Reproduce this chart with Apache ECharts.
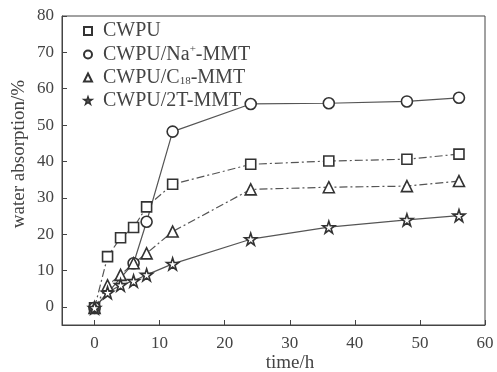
<!DOCTYPE html>
<html><head><meta charset="utf-8">
<script src="https://cdn.jsdelivr.net/npm/echarts@6/dist/echarts.min.js"></script>
<style>html,body{margin:0;padding:0;background:#fff}#c{width:497px;height:372px}</style>
</head><body><div id="c"></div>
<script>
const timeH = [0, 2, 4, 6, 8, 12, 24, 36, 48, 56];
const cwpu   = [-0.3, 13.8, 19.0, 21.8, 27.5, 33.7, 39.2, 40.1, 40.6, 42.0];
const naMMT  = [-0.3, null, null, 12.0, 23.4, 48.2, 55.8, 56.0, 56.5, 57.5];
const c18MMT = [-0.3, 5.9, 8.8, 12.0, 14.7, 20.7, 32.3, 32.9, 33.2, 34.6];
const t2MMT  = [-0.3, 3.9, 6.0, 7.1, 8.8, 11.8, 18.6, 21.9, 23.9, 25.1];
const seriesNames = ['CWPU', 'CWPU/Na+-MMT', 'CWPU/C18-MMT', 'CWPU/2T-MMT'];
const xTicks = [0, 10, 20, 30, 40, 50, 60];
const yTicks = [0, 10, 20, 30, 40, 50, 60, 70, 80];
const xName = 'time/h';
const yName = 'water absorption/%';

const STAR = 'path://M50,0 L61.8,35.1 L98.9,35.1 L68.9,56.8 L80.3,91.9 L50,70.2 L19.7,91.9 L31.1,56.8 L1.1,35.1 L38.2,35.1 Z';
const icons = ['rect', 'circle', 'triangle', STAR];
const font = '"Liberation Serif","DejaVu Serif",serif';
const pair = a => a.map((v, i) => [timeH[i], v]).filter(p => p[1] !== null);
function mk(name, data, symbol, size, dash) {
  return {
    name, type: 'line', data: pair(data), symbol, symbolSize: size,
    lineStyle: { color: '#555', width: 1.2, type: dash },
    itemStyle: { color: '#fff', borderColor: '#333', borderWidth: 1.6 },
    emphasis: { disabled: true }, z: 3
  };
}
const chart = echarts.init(document.getElementById('c'));
chart.setOption({
  animation: false,
  backgroundColor: '#fff',
  grid: { left: 62, right: 12, top: 16, bottom: 47, show: true, borderColor: '#444', borderWidth: 1 },
  legend: {
    orient: 'vertical', left: 78, top: 16, itemGap: 3, itemWidth: 8, itemHeight: 8,
    data: seriesNames.map((n, i) => ({ name: n, icon: icons[i],
      itemStyle: i === 3 ? { color: '#555', borderColor: '#333', borderWidth: 1.5 } : { color: '#fff', borderColor: '#333', borderWidth: 2 } })),
    textStyle: {
      fontFamily: font, fontSize: 20, color: '#444',
      rich: {
        f: { fontFamily: font, fontSize: 20, color: '#444', padding: [0, 0, 0, 6] },
        n: { fontFamily: font, fontSize: 20, color: '#444' },
        sup: { fontFamily: font, fontSize: 11, color: '#444', verticalAlign: 'top', padding: [0, 0, 10, 0] },
        sub: { fontFamily: font, fontSize: 11, color: '#444', padding: [8, 0, 0, 0] }
      }
    },
    formatter: n => {
      if (n === 'CWPU/Na+-MMT') return '{f|CWPU/Na}{sup|+}{n|-MMT}';
      if (n === 'CWPU/C18-MMT') return '{f|CWPU/C}{sub|18}{n|-MMT}';
      return '{f|' + n + '}';
    }
  },
  xAxis: {
    type: 'value', min: -5, max: 60, interval: 5,
    axisLine: { onZero: false, lineStyle: { color: '#444' } },
    axisTick: { inside: true, length: 5, lineStyle: { color: '#444' }, customValues: xTicks },
    axisLabel: { fontFamily: font, fontSize: 17, color: '#444', margin: 10, customValues: xTicks },
    splitLine: { show: false }
  },
  yAxis: {
    type: 'value', min: -5, max: 80, interval: 5,
    axisLine: { onZero: false, lineStyle: { color: '#444' } },
    axisTick: { inside: true, length: 5, lineStyle: { color: '#444' }, customValues: yTicks },
    axisLabel: { fontFamily: font, fontSize: 17, color: '#444', margin: 8, customValues: yTicks },
    splitLine: { show: false }
  },
  graphic: [
    { type: 'text', x: 290, y: 363, style: { text: xName, font: '19px ' + font, fill: '#444', align: 'center', verticalAlign: 'middle' } },
    { type: 'text', x: 19, y: 154, rotation: Math.PI / 2, style: { text: yName, font: '19px ' + font, fill: '#444', align: 'center', verticalAlign: 'middle' } }
  ],
  series: [
    mk(seriesNames[0], cwpu, 'rect', 10, [8, 3, 2, 3]),
    mk(seriesNames[1], naMMT, 'circle', 11, 'solid'),
    mk(seriesNames[2], c18MMT, 'triangle', 11, [8, 3, 2, 3]),
    mk(seriesNames[3], t2MMT, STAR, 12, 'solid')
  ]
});
</script></body></html>
